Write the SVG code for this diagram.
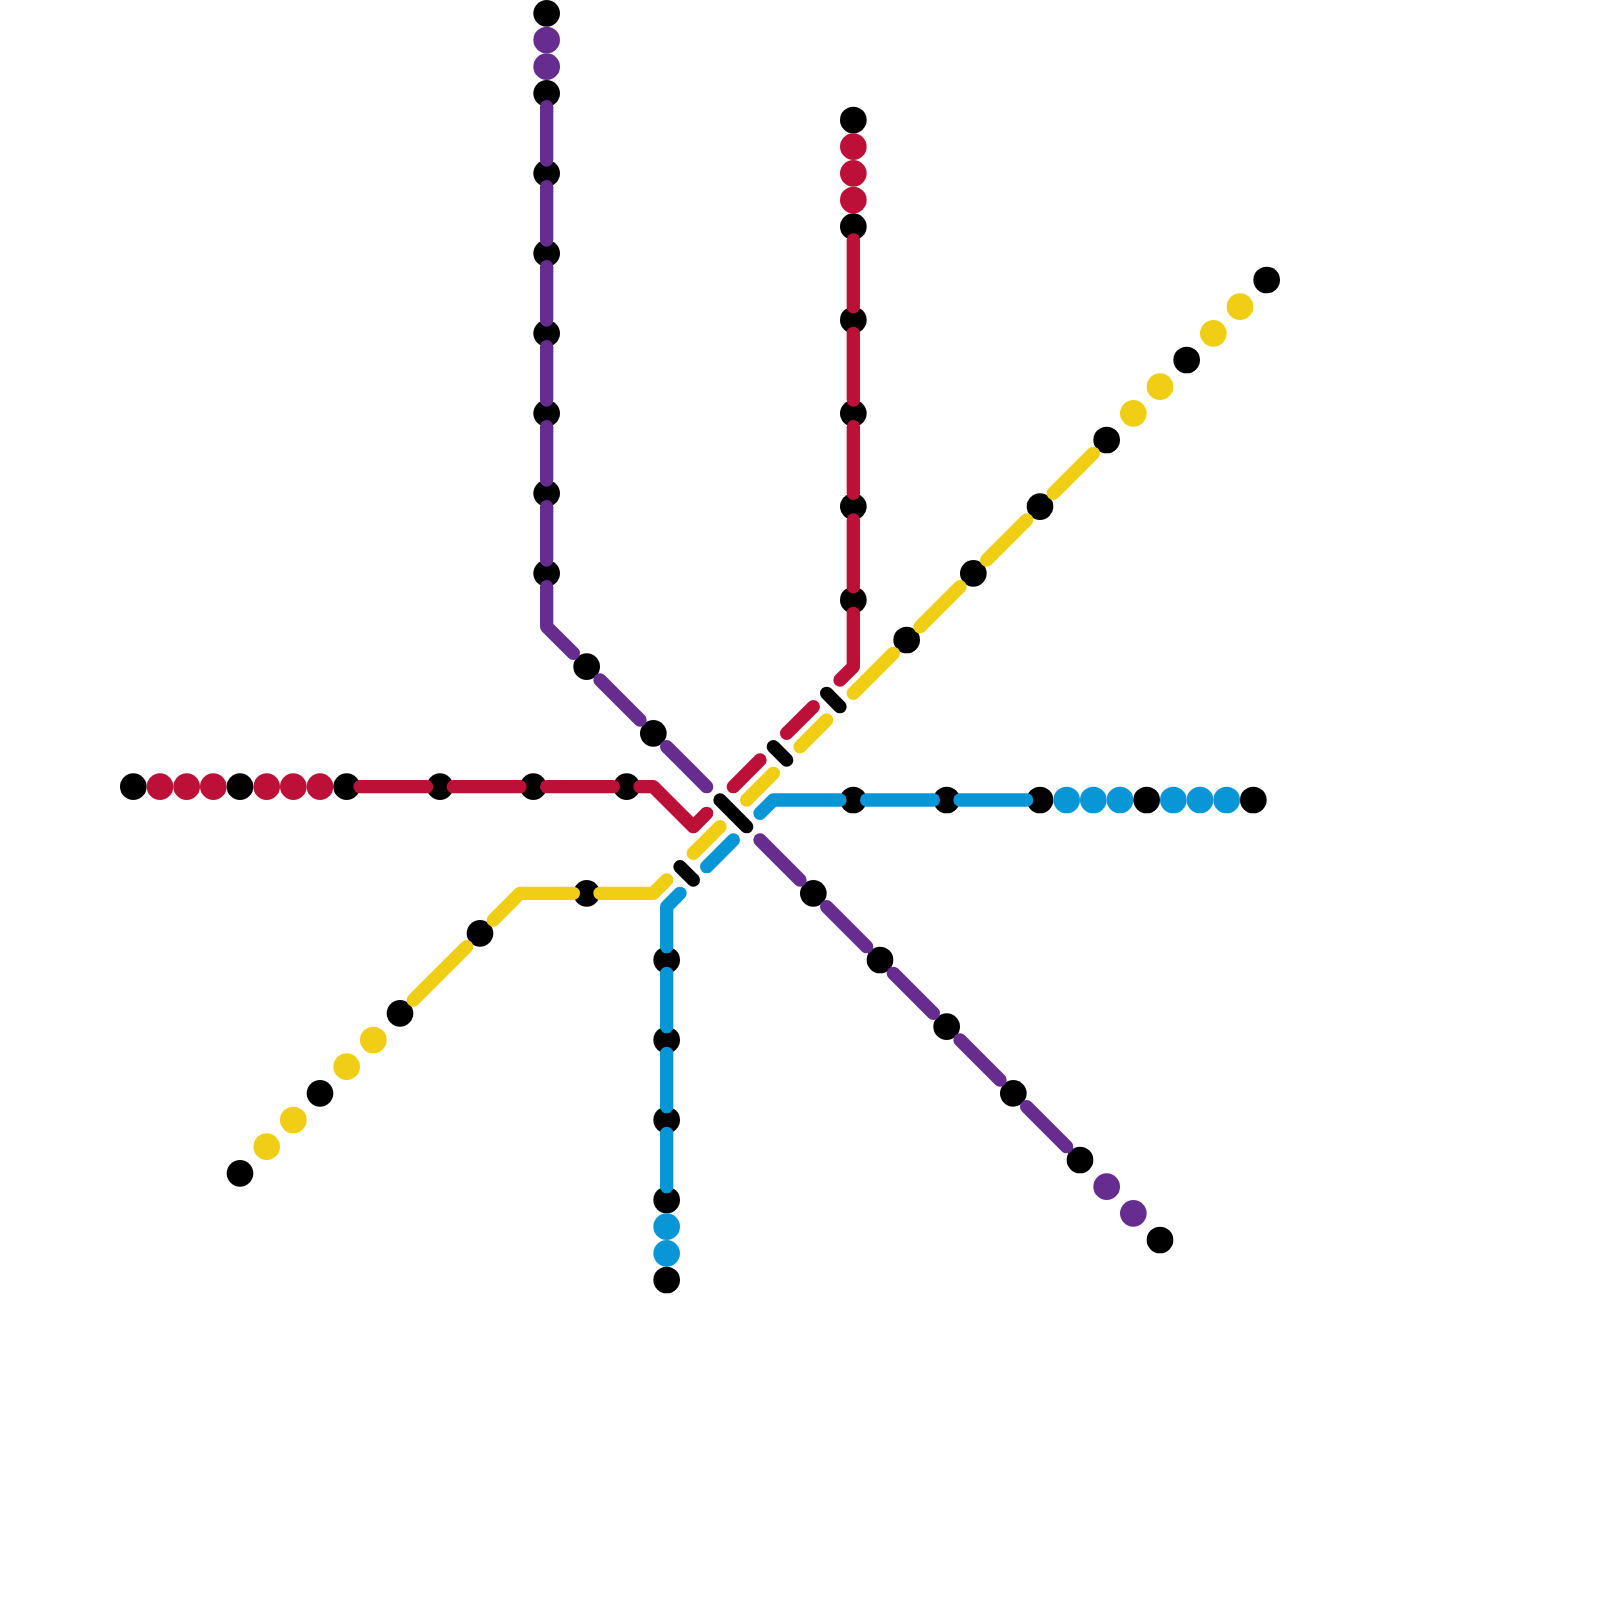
<svg xmlns="http://www.w3.org/2000/svg" width="1600" height="1600" viewBox="0 0 1600 1600">
<style>
.k{fill:#000}.r{fill:#bd1038}.p{fill:#662c90}.y{fill:#f0ce15}.b{fill:#0896d7}
#connectors path{fill:none;stroke-width:1;stroke-linecap:round;stroke-linejoin:round}
.lr{stroke:#bd1038}.lp{stroke:#662c90}.ly{stroke:#f0ce15}.lb{stroke:#0896d7}.lk{stroke:#000}
</style>
<rect width="1600" height="1600" fill="#fff"/>
<g id="map" transform="scale(13.33333)">
<g id="nodes-red">
<g id="r1"><circle class="k" cx="10" cy="59" r="1"/></g>
<g id="r2"><circle class="r" cx="12" cy="59" r="1"/></g>
<g id="r3"><circle class="r" cx="14" cy="59" r="1"/></g>
<g id="r4"><circle class="r" cx="16" cy="59" r="1"/></g>
<g id="r5"><circle class="k" cx="18" cy="59" r="1"/></g>
<g id="r6"><circle class="r" cx="20" cy="59" r="1"/></g>
<g id="r7"><circle class="r" cx="22" cy="59" r="1"/></g>
<g id="r8"><circle class="r" cx="24" cy="59" r="1"/></g>
<g id="r9"><circle class="k" cx="26" cy="59" r="1"/></g>
<g id="r10"><circle class="k" cx="33" cy="59" r="1"/></g>
<g id="r11"><circle class="k" cx="40" cy="59" r="1"/></g>
<g id="r12"><circle class="k" cx="47" cy="59" r="1"/></g>
<g id="r13"><circle class="k" cx="64" cy="45" r="1"/></g>
<g id="r14"><circle class="k" cx="64" cy="38" r="1"/></g>
<g id="r15"><circle class="k" cx="64" cy="31" r="1"/></g>
<g id="r16"><circle class="k" cx="64" cy="24" r="1"/></g>
<g id="r17"><circle class="k" cx="64" cy="17" r="1"/></g>
<g id="r18"><circle class="r" cx="64" cy="15" r="1"/></g>
<g id="r19"><circle class="r" cx="64" cy="13" r="1"/></g>
<g id="r20"><circle class="r" cx="64" cy="11" r="1"/></g>
<g id="r21"><circle class="k" cx="64" cy="9" r="1"/></g>
</g>
<g id="nodes-purple">
<g id="p1"><circle class="k" cx="41" cy="1" r="1"/></g>
<g id="p2"><circle class="p" cx="41" cy="3" r="1"/></g>
<g id="p3"><circle class="p" cx="41" cy="5" r="1"/></g>
<g id="p4"><circle class="k" cx="41" cy="7" r="1"/></g>
<g id="p5"><circle class="k" cx="41" cy="13" r="1"/></g>
<g id="p6"><circle class="k" cx="41" cy="19" r="1"/></g>
<g id="p7"><circle class="k" cx="41" cy="25" r="1"/></g>
<g id="p8"><circle class="k" cx="41" cy="31" r="1"/></g>
<g id="p9"><circle class="k" cx="41" cy="37" r="1"/></g>
<g id="p10"><circle class="k" cx="41" cy="43" r="1"/></g>
<g id="p11"><circle class="k" cx="44" cy="50" r="1"/></g>
<g id="p12"><circle class="k" cx="49" cy="55" r="1"/></g>
<g id="p13"><circle class="k" cx="61" cy="67" r="1"/></g>
<g id="p14"><circle class="k" cx="66" cy="72" r="1"/></g>
<g id="p15"><circle class="k" cx="71" cy="77" r="1"/></g>
<g id="p16"><circle class="k" cx="76" cy="82" r="1"/></g>
<g id="p17"><circle class="k" cx="81" cy="87" r="1"/></g>
<g id="p18"><circle class="p" cx="83" cy="89" r="1"/></g>
<g id="p19"><circle class="p" cx="85" cy="91" r="1"/></g>
<g id="p20"><circle class="k" cx="87" cy="93" r="1"/></g>
</g>
<g id="nodes-yellow">
<g id="y1"><circle class="k" cx="18" cy="88" r="1"/></g>
<g id="y2"><circle class="y" cx="20" cy="86" r="1"/></g>
<g id="y3"><circle class="y" cx="22" cy="84" r="1"/></g>
<g id="y4"><circle class="k" cx="24" cy="82" r="1"/></g>
<g id="y5"><circle class="y" cx="26" cy="80" r="1"/></g>
<g id="y6"><circle class="y" cx="28" cy="78" r="1"/></g>
<g id="y7"><circle class="k" cx="30" cy="76" r="1"/></g>
<g id="y8"><circle class="k" cx="36" cy="70" r="1"/></g>
<g id="y9"><circle class="k" cx="44" cy="67" r="1"/></g>
<g id="y10"><circle class="k" cx="68" cy="48" r="1"/></g>
<g id="y11"><circle class="k" cx="73" cy="43" r="1"/></g>
<g id="y12"><circle class="k" cx="78" cy="38" r="1"/></g>
<g id="y13"><circle class="k" cx="83" cy="33" r="1"/></g>
<g id="y14"><circle class="y" cx="85" cy="31" r="1"/></g>
<g id="y15"><circle class="y" cx="87" cy="29" r="1"/></g>
<g id="y16"><circle class="k" cx="89" cy="27" r="1"/></g>
<g id="y17"><circle class="y" cx="91" cy="25" r="1"/></g>
<g id="y18"><circle class="y" cx="93" cy="23" r="1"/></g>
<g id="y19"><circle class="k" cx="95" cy="21" r="1"/></g>
</g>
<g id="nodes-blue">
<g id="b1"><circle class="k" cx="50" cy="72" r="1"/></g>
<g id="b2"><circle class="k" cx="50" cy="78" r="1"/></g>
<g id="b3"><circle class="k" cx="50" cy="84" r="1"/></g>
<g id="b4"><circle class="k" cx="50" cy="90" r="1"/></g>
<g id="b5"><circle class="b" cx="50" cy="92" r="1"/></g>
<g id="b6"><circle class="b" cx="50" cy="94" r="1"/></g>
<g id="b7"><circle class="k" cx="50" cy="96" r="1"/></g>
<g id="b8"><circle class="k" cx="64" cy="60" r="1"/></g>
<g id="b9"><circle class="k" cx="71" cy="60" r="1"/></g>
<g id="b10"><circle class="k" cx="78" cy="60" r="1"/></g>
<g id="b11"><circle class="b" cx="80" cy="60" r="1"/></g>
<g id="b12"><circle class="b" cx="82" cy="60" r="1"/></g>
<g id="b13"><circle class="b" cx="84" cy="60" r="1"/></g>
<g id="b14"><circle class="k" cx="86" cy="60" r="1"/></g>
<g id="b15"><circle class="b" cx="88" cy="60" r="1"/></g>
<g id="b16"><circle class="b" cx="90" cy="60" r="1"/></g>
<g id="b17"><circle class="b" cx="92" cy="60" r="1"/></g>
<g id="b18"><circle class="k" cx="94" cy="60" r="1"/></g>
</g>
<g id="connectors">
<g id="line-red">
<path class="lr" d="M27 59H32"/><path class="lr" d="M34 59H39"/><path class="lr" d="M41 59H46"/>
<path class="lr" d="M48 59H49L52 62L53 61"/>
<path class="lr" d="M55 59L57 57"/><path class="lr" d="M59 55L61 53"/>
<path class="lr" d="M63 51L64 50V46"/>
<path class="lr" d="M64 44V39"/><path class="lr" d="M64 37V32"/><path class="lr" d="M64 30V25"/><path class="lr" d="M64 23V18"/>
</g>
<g id="line-purple">
<path class="lp" d="M41 8V12"/><path class="lp" d="M41 14V18"/><path class="lp" d="M41 20V24"/><path class="lp" d="M41 26V30"/><path class="lp" d="M41 32V36"/><path class="lp" d="M41 38V42"/>
<path class="lp" d="M41 44V47L43 49"/>
<path class="lp" d="M45 51L48 54"/><path class="lp" d="M50 56L53 59"/><path class="lp" d="M57 63L60 66"/><path class="lp" d="M62 68L65 71"/><path class="lp" d="M67 73L70 76"/><path class="lp" d="M72 78L75 81"/><path class="lp" d="M77 83L80 86"/>
</g>
<g id="line-yellow">
<path class="ly" d="M31 75L35 71"/><path class="ly" d="M37 69L39 67H43"/><path class="ly" d="M45 67H49L50 66"/>
<path class="ly" d="M52 64L54 62"/><path class="ly" d="M56 60L58 58"/><path class="ly" d="M60 56L62 54"/>
<path class="ly" d="M64 52L67 49"/><path class="ly" d="M69 47L72 44"/><path class="ly" d="M74 42L77 39"/><path class="ly" d="M79 37L82 34"/>
</g>
<g id="line-blue">
<path class="lb" d="M51 67L50 68V71"/><path class="lb" d="M50 73V77"/><path class="lb" d="M50 79V83"/><path class="lb" d="M50 85V89"/>
<path class="lb" d="M53 65L55 63"/>
<path class="lb" d="M57 61L58 60H63"/><path class="lb" d="M65 60H70"/><path class="lb" d="M72 60H77"/>
</g>
<g id="crossings">
<path class="lk" d="M54 60L56 62"/><path class="lk" d="M51 65L52 66"/><path class="lk" d="M58 56L59 57"/><path class="lk" d="M62 52L63 53"/>
</g>
</g>
</g>
</svg>
